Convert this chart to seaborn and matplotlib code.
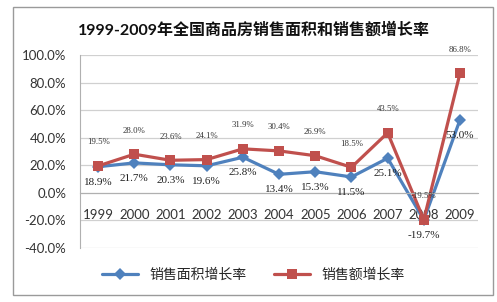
import numpy as np
import pandas as pd
import matplotlib
matplotlib.use("Agg")
import matplotlib.pyplot as plt
import seaborn as sns
from matplotlib.patches import Rectangle
from matplotlib.ticker import FuncFormatter

# data
years = ["1999", "2000", "2001", "2002", "2003", "2004", "2005", "2006", "2007", "2008", "2009"]
area_growth = [18.9, 21.7, 20.3, 19.6, 25.8, 13.4, 15.3, 11.5, 25.1, -19.7, 53.0]
sales_growth = [19.5, 28.0, 23.6, 24.1, 31.9, 30.4, 26.9, 18.5, 43.5, -19.5, 86.8]
series_names = ["销售面积增长率", "销售额增长率"]
title = "1999-2009年全国商品房销售面积和销售额增长率"

sns.set_style("white")
plt.rcParams['font.family'] = ['Lato', 'Noto Sans CJK SC', 'DejaVu Sans']

df = pd.DataFrame({
    "year": years * 2,
    "rate": area_growth + sales_growth,
    "series": [series_names[0]] * len(years) + [series_names[1]] * len(years),
})

fig = plt.figure(figsize=(4.97, 3.02), dpi=100)
ax = fig.add_axes([0.161, 0.179, 0.801, 0.639])

pal = {series_names[0]: "#4F81BD", series_names[1]: "#C0504D"}
sns.lineplot(data=df, x="year", y="rate", hue="series", style="series",
             markers={series_names[0]: "D", series_names[1]: "s"}, dashes=False,
             palette=pal, linewidth=2.3, markersize=6, markeredgewidth=0,
             sort=False, ax=ax, legend=True)
for ln in ax.lines:
    if ln.get_marker() == "s":
        ln.set_markersize(7.5)

ax.set_ylim(-40, 100)
ax.set_xlim(-0.5, len(years) - 0.5)
ax.set_yticks(np.arange(-40, 101, 20))
ax.yaxis.set_major_formatter(FuncFormatter(lambda v, p: f"{v:.1f}%"))
ax.yaxis.grid(True, color="#d0d0d0", linewidth=0.9)
ax.set_axisbelow(True)
for s in ["top", "right"]:
    ax.spines[s].set_visible(False)
ax.spines["left"].set_color("#b0b0b0")
ax.spines["bottom"].set_color("#b0b0b0")
ax.spines["bottom"].set_position(("data", 0))
ax.tick_params(axis="both", length=0, labelsize=9.5, colors="#333333")
ax.tick_params(axis="x", pad=12)
ax.tick_params(axis="y", pad=10)
ax.set_xlabel("")
ax.set_ylabel("")

# data labels
for i, v in enumerate(sales_growth):
    ax.annotate(f"{v:.1f}%", (i, v), xytext=(0, 14), textcoords="offset points",
                ha="center", va="bottom", fontsize=6.3, color="#333333",
                family=["Liberation Serif", "DejaVu Serif"])
for i, v in enumerate(area_growth):
    ax.annotate(f"{v:.1f}%", (i, v), xytext=(0, -8), textcoords="offset points",
                ha="center", va="top", fontsize=8, color="#222222",
                family=["Liberation Serif", "DejaVu Serif"])

handles, labels = ax.get_legend_handles_labels()
ax.get_legend().remove()
fig.legend(handles, labels, loc="center", bbox_to_anchor=(0.51, 0.09), ncol=2,
           frameon=False, fontsize=10, handlelength=2.6, columnspacing=2.0,
           prop={"family": ["Noto Sans CJK SC"], "size": 10})

fig.text(0.51, 0.9, title, ha="center", va="center", fontsize=11.5, fontweight="bold",
         color="#111111", family=["Lato", "Noto Sans CJK SC"])

fig.patches.append(Rectangle((13 / 497, 7 / 302), 480 / 497, 288 / 302,
                             transform=fig.transFigure, fill=False,
                             edgecolor="#9a9a9a", linewidth=1.0))

fig.savefig("out.png", dpi=100)
